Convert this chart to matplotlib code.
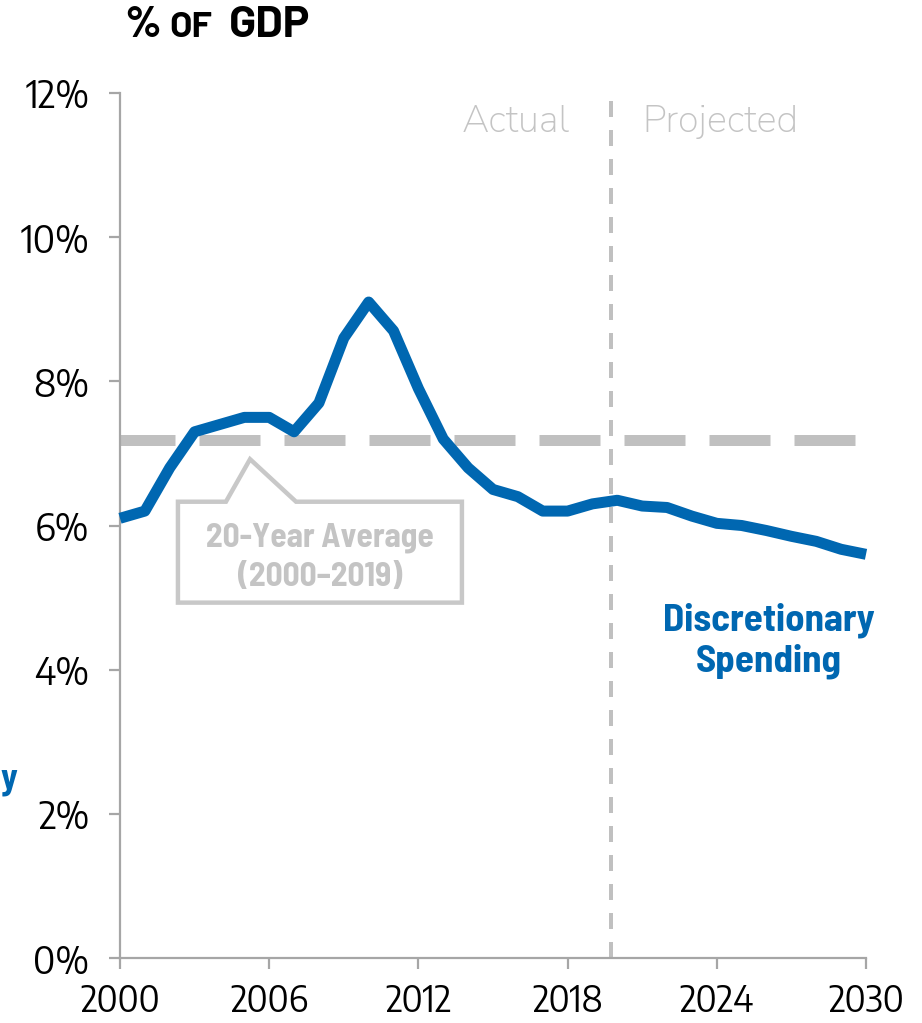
import matplotlib
matplotlib.use("Agg")
import matplotlib.pyplot as plt
from matplotlib.patches import Polygon

TICKFONT = ['Encode Sans Semi Condensed', 'Liberation Sans', 'DejaVu Sans']
BOLDFONT = ['Barlow Semi Condensed', 'Liberation Sans', 'DejaVu Sans']
TITLEFONT = ['Barlow', 'Liberation Sans', 'DejaVu Sans']
LIGHTFONT = ['Nunito Sans', 'Mulish', 'Liberation Sans', 'DejaVu Sans']
plt.rcParams['font.family'] = TICKFONT

years = list(range(2000, 2031))
spending = [6.1, 6.2, 6.8, 7.3, 7.4, 7.5, 7.5, 7.3, 7.7, 8.6, 9.1, 8.7, 7.9, 7.2, 6.8,
            6.5, 6.4, 6.2, 6.2, 6.3, 6.35, 6.27, 6.25, 6.13, 6.03, 6.0, 5.93, 5.85, 5.78,
            5.67, 5.6]
average = 7.18
split_year = 2019.75
yticks = [0, 2, 4, 6, 8, 10, 12]
ytick_labels = ["0%", "2%", "4%", "6%", "8%", "10%", "12%"]
xticks = [2000, 2006, 2012, 2018, 2024, 2030]

BLUE = "#0067b1"
GRAY = "#c0c0c0"
AXGRAY = "#a6a6a6"

fig = plt.figure(figsize=(9.22, 10.23), dpi=100)
ax = fig.add_axes([120/922, 1-958/1023, (866-120)/922, (958-93)/1023])
ax.set_xlim(2000, 2030)
ax.set_ylim(0, 12)

# px -> pt at 100 dpi: *0.72
lw_avg = 11 * 0.72
ax.plot([2000, 2030], [average, average], color=GRAY, lw=lw_avg,
        linestyle=(6*0.72/lw_avg, (61*0.72/lw_avg, 24*0.72/lw_avg)), solid_capstyle='butt',
        dash_capstyle='butt', zorder=2)
lw_v = 4 * 0.72
ax.plot([split_year, split_year], [0, 11.92], color=GRAY, lw=lw_v,
        linestyle=(0, (16*0.72/lw_v, 13*0.72/lw_v)), dash_capstyle='butt', zorder=1)
ax.plot(years, spending, color=BLUE, lw=11*0.72, solid_joinstyle='round', solid_capstyle='butt',
        zorder=3, clip_on=False)

for s in ['top', 'right']:
    ax.spines[s].set_visible(False)
for s in ['left', 'bottom']:
    ax.spines[s].set_color(AXGRAY)
    ax.spines[s].set_linewidth(1.6)

ax.set_yticks(yticks)
ax.set_yticklabels(ytick_labels)
ax.set_xticks(xticks)
ax.set_xticklabels([str(x) for x in xticks])
ax.tick_params(axis='both', colors=AXGRAY, length=8, width=1.6, labelcolor='black', labelsize=26)
ax.tick_params(axis='y', pad=14, labelsize=27.5)
ax.tick_params(axis='x', pad=10)

# callout box
box = [(2002.33, 6.33), (2004.26, 6.33), (2005.23, 6.92), (2007.08, 6.33),
       (2013.75, 6.33), (2013.75, 4.93), (2002.33, 4.93)]
ax.add_patch(Polygon(box, closed=True, fill=True, facecolor='white', edgecolor="#c8c8c8",
                     lw=3.2, zorder=4))
ax.text(2008.05, 5.83, "20-Year Average", ha='center', va='center', color="#c4c4c4",
        fontsize=24, fontweight='bold', family=BOLDFONT, zorder=5)
ax.text(2008.05, 5.28, "(2000\u20132019)", ha='center', va='center', color="#c4c4c4",
        fontsize=24, fontweight='bold', family=BOLDFONT, zorder=5)

ax.text(2018.1, 11.6, "Actual", ha='right', va='center', color="#c4c4c4", fontsize=27.5,
        fontweight='light', family=LIGHTFONT)
ax.text(2021.0, 11.6, "Projected", ha='left', va='center', color="#c4c4c4", fontsize=27.5,
        fontweight='light', family=LIGHTFONT)

ax.text(2026.1, 4.4, "Discretionary\nSpending", ha='center', va='center', color=BLUE,
        fontsize=28, fontweight='bold', family=BOLDFONT, linespacing=1.22)

fig.text(0, 1-780/1023, "y", ha='left', va='center', color=BLUE, fontsize=26,
         fontweight='bold', family=BOLDFONT)

# title with small caps
fig.text(124/922, 1-37/1023, "%", ha='left', va='baseline', fontsize=32, fontweight='bold', family=TITLEFONT)
fig.text(169/922, 1-37/1023, "OF", ha='left', va='baseline', fontsize=26, fontweight='bold', family=TITLEFONT)
fig.text(229/922, 1-37/1023, "GDP", ha='left', va='baseline', fontsize=32, fontweight='bold', family=TITLEFONT)

fig.savefig("out.png", dpi=100)
